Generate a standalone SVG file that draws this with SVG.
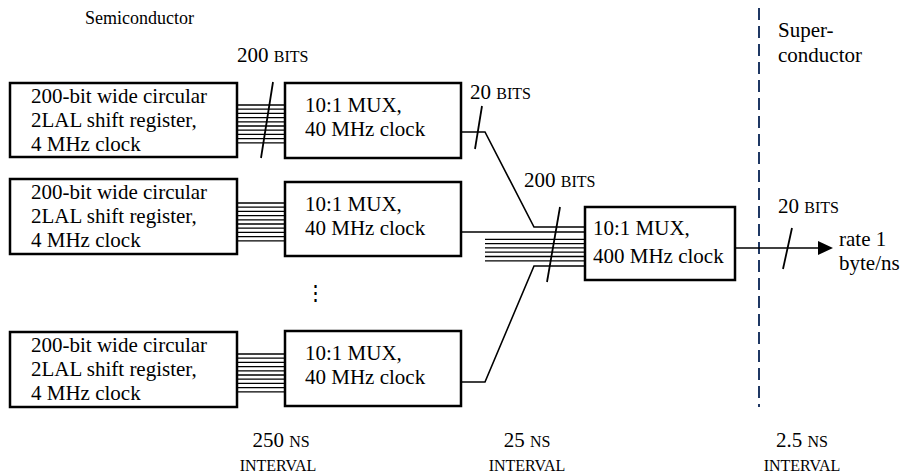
<svg xmlns="http://www.w3.org/2000/svg" width="916" height="474" viewBox="0 0 916 474" font-family="'Liberation Serif', 'Times New Roman', serif">
  <style>
    text { font-family: "Liberation Serif", "Times New Roman", serif; fill: #000; }
    .lbl { font-size: 21px; }
    .sc { font-size: 16px; }
    .box { fill: #fff; stroke: #000; stroke-width: 2.5; }
    .wire { fill: none; stroke: #000; stroke-width: 1.6; }
    .bus { stroke: #000; stroke-width: 1.3; }
    .tick { stroke: #000; stroke-width: 1.8; }
  </style>
  <defs>
    <!-- ten parallel lines of a 200-bit bus between register and MUX -->
    <g id="bus10">
      <line class="bus" x1="0" y1="0" x2="48" y2="0"/>
      <line class="bus" x1="0" y1="4.2" x2="48" y2="4.2"/>
      <line class="bus" x1="0" y1="8.4" x2="48" y2="8.4"/>
      <line class="bus" x1="0" y1="12.6" x2="48" y2="12.6"/>
      <line class="bus" x1="0" y1="16.8" x2="48" y2="16.8"/>
      <line class="bus" x1="0" y1="21" x2="48" y2="21"/>
      <line class="bus" x1="0" y1="25.2" x2="48" y2="25.2"/>
      <line class="bus" x1="0" y1="29.4" x2="48" y2="29.4"/>
      <line class="bus" x1="0" y1="33.6" x2="48" y2="33.6"/>
      <line class="bus" x1="0" y1="37.8" x2="48" y2="37.8"/>
    </g>
  </defs>

  <!-- region labels -->
  <text class="lbl" x="85" y="24" style="font-size:18px">Semiconductor</text>
  <text class="lbl" x="778" y="37">Super-</text>
  <text class="lbl" x="778" y="62">conductor</text>

  <!-- semiconductor / superconductor boundary -->
  <line x1="759" y1="8" x2="759" y2="407" stroke="#1F3864" stroke-width="2" stroke-dasharray="12 6"/>

  <!-- connectors -->
  <g id="connectors">
    <use href="#bus10" x="237" y="105"/>
    <use href="#bus10" x="237" y="203"/>
    <use href="#bus10" x="237" y="354"/>
    <line class="tick" x1="273" y1="82" x2="261" y2="158"/>

    <path class="wire" d="M461,132 H485 L534,227 H585"/>
    <path class="wire" d="M461,232 H585"/>
    <path class="wire" d="M461,382 H485 L534,266 H585"/>
    <line class="bus" x1="485" y1="239.3" x2="585" y2="239.3"/>
    <line class="bus" x1="485" y1="243.6" x2="585" y2="243.6"/>
    <line class="bus" x1="485" y1="247.9" x2="585" y2="247.9"/>
    <line class="bus" x1="485" y1="252.2" x2="585" y2="252.2"/>
    <line class="bus" x1="485" y1="256.5" x2="585" y2="256.5"/>
    <line class="bus" x1="485" y1="260.8" x2="585" y2="260.8"/>
    <line class="tick" x1="482" y1="106" x2="475" y2="149"/>
    <line class="tick" x1="560" y1="207" x2="547" y2="282"/>

    <path class="wire" d="M735,248 H820"/>
    <polygon points="818,241 833,248 818,255" fill="#000"/>
    <line class="tick" x1="792" y1="228" x2="783" y2="269"/>
  </g>

  <!-- bus width labels -->
  <text class="lbl" x="237" y="62">200 <tspan class="sc">BITS</tspan></text>
  <text class="lbl" x="470" y="99">20 <tspan class="sc">BITS</tspan></text>
  <text class="lbl" x="524" y="187">200 <tspan class="sc">BITS</tspan></text>
  <text class="lbl" x="778" y="213">20 <tspan class="sc">BITS</tspan></text>

  <!-- shift registers -->
  <g id="sr1">
    <rect class="box" x="10" y="83" width="227" height="74"/>
    <text class="lbl" x="31" y="103">200-bit wide circular</text>
    <text class="lbl" x="31" y="127">2LAL shift register,</text>
    <text class="lbl" x="31" y="151">4 MHz clock</text>
  </g>
  <g id="sr2">
    <rect class="box" x="10" y="179" width="227" height="75"/>
    <text class="lbl" x="31" y="199">200-bit wide circular</text>
    <text class="lbl" x="31" y="223">2LAL shift register,</text>
    <text class="lbl" x="31" y="247">4 MHz clock</text>
  </g>
  <g id="sr3">
    <rect class="box" x="10" y="332" width="227" height="75"/>
    <text class="lbl" x="31" y="352">200-bit wide circular</text>
    <text class="lbl" x="31" y="376">2LAL shift register,</text>
    <text class="lbl" x="31" y="400">4 MHz clock</text>
  </g>

  <!-- first-stage multiplexers -->
  <g id="mux1">
    <rect class="box" x="285" y="83" width="176" height="75"/>
    <text class="lbl" x="305" y="112">10:1 MUX,</text>
    <text class="lbl" x="305" y="136">40 MHz clock</text>
  </g>
  <g id="mux2">
    <rect class="box" x="285" y="182" width="176" height="74"/>
    <text class="lbl" x="305" y="211">10:1 MUX,</text>
    <text class="lbl" x="305" y="235">40 MHz clock</text>
  </g>
  <text class="lbl" x="305" y="300">⋮</text>
  <g id="mux3">
    <rect class="box" x="285" y="331" width="176" height="75"/>
    <text class="lbl" x="305" y="360">10:1 MUX,</text>
    <text class="lbl" x="305" y="384">40 MHz clock</text>
  </g>

  <!-- second-stage multiplexer -->
  <g id="mux4">
    <rect class="box" x="585" y="207" width="150" height="73"/>
    <text class="lbl" x="593" y="235">10:1 MUX,</text>
    <text class="lbl" x="593" y="263">400 MHz clock</text>
  </g>

  <!-- output -->
  <text class="lbl" x="839" y="246">rate 1</text>
  <text class="lbl" x="839" y="270">byte/ns</text>

  <!-- timing intervals -->
  <text class="lbl" x="281" y="447" text-anchor="middle">250 <tspan class="sc">NS</tspan></text>
  <text class="sc" x="278" y="471" text-anchor="middle">INTERVAL</text>
  <text class="lbl" x="527" y="447" text-anchor="middle">25 <tspan class="sc">NS</tspan></text>
  <text class="sc" x="527" y="471" text-anchor="middle">INTERVAL</text>
  <text class="lbl" x="802" y="447" text-anchor="middle">2.5 <tspan class="sc">NS</tspan></text>
  <text class="sc" x="802" y="471" text-anchor="middle">INTERVAL</text>
</svg>
